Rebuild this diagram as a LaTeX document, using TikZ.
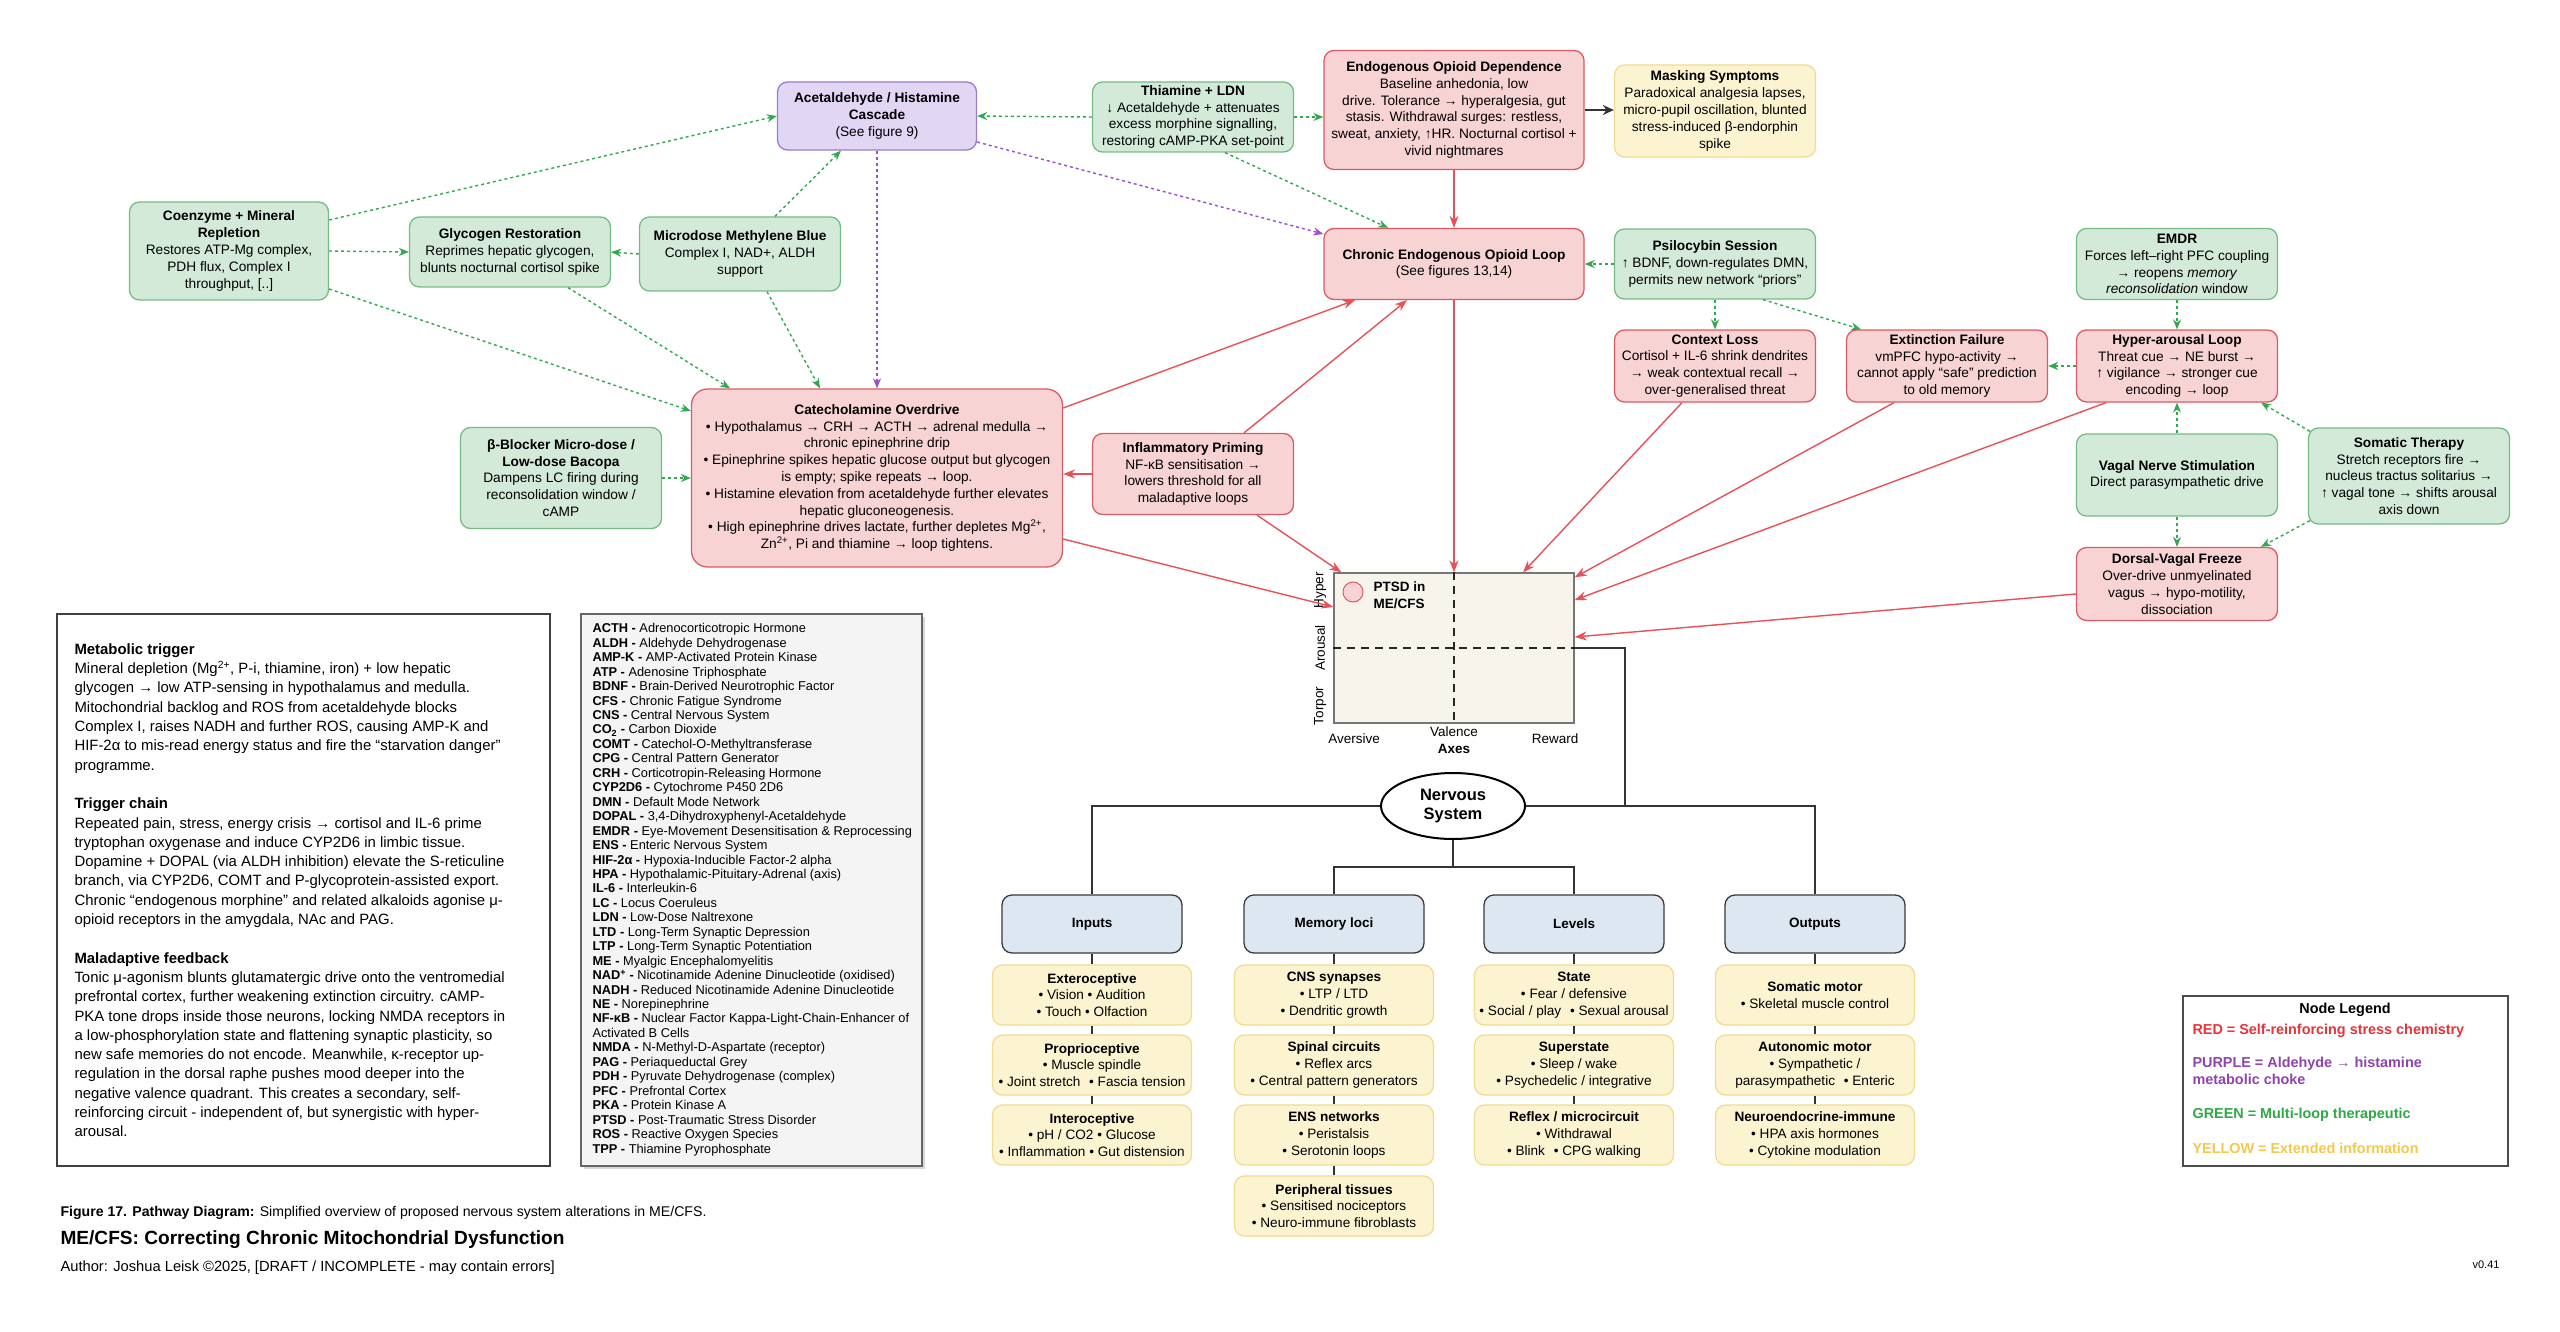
\documentclass[tikz,border=0pt]{standalone}
\usepackage{fontspec}
\setmainfont{Liberation Sans}
\usetikzlibrary{arrows.meta,shapes.geometric,calc,shadows}
\definecolor{redfill}{HTML}{F8D3D4}
\definecolor{redline}{HTML}{DD5A62}
\definecolor{grnfill}{HTML}{D4EAD9}
\definecolor{grnline}{HTML}{74BC83}
\definecolor{purfill}{HTML}{E2D6F5}
\definecolor{purline}{HTML}{9C7CC9}
\definecolor{yelfill}{HTML}{FCF3D0}
\definecolor{yelline}{HTML}{F1DC92}
\definecolor{blufill}{HTML}{DDE7F1}
\definecolor{bluline}{HTML}{3A3A3A}
\definecolor{chartfill}{HTML}{F7F4EC}
\definecolor{chartline}{HTML}{777777}
\definecolor{abbfill}{HTML}{F4F4F4}
\definecolor{arrred}{HTML}{E8505A}
\definecolor{arrgrn}{HTML}{33A853}
\definecolor{arrpur}{HTML}{9A4FD0}
\definecolor{legred}{HTML}{E8333A}
\definecolor{legpur}{HTML}{8E44AD}
\definecolor{leggrn}{HTML}{2EAA44}
\definecolor{legyel}{HTML}{F2C94C}
\lineskiplimit=-20pt
\newcommand\bxf{\lineskiplimit=-20pt\fontsize{13.7}{16.8}\selectfont}
\newcommand\trf{\lineskiplimit=-20pt\fontsize{13.6}{16.8}\selectfont}
\newcommand\hdrf{\bfseries\fontsize{13.5}{16}\selectfont}
\newcommand\ltf{\lineskiplimit=-20pt\fontsize{14.9}{19.3}\selectfont}
\newcommand\abf{\lineskiplimit=-20pt\fontsize{12.8}{14.45}\selectfont}
\newcommand\lgf{\bfseries\fontsize{14.4}{17}\selectfont}
\tikzset{
 bx/.style={rounded corners=10pt, align=center, font=\bxf, line width=1.3pt, inner sep=2pt},
 redbox/.style={bx, fill=redfill, draw=redline},
 grnbox/.style={bx, fill=grnfill, draw=grnline},
 purbox/.style={bx, fill=purfill, draw=purline},
 yelbox/.style={bx, fill=yelfill, draw=yelline},
 hdrbox/.style={rounded corners=10pt, fill=blufill, draw=bluline, line width=1.3pt, font=\hdrf, minimum width=180pt, minimum height=58pt},
 treebox/.style={rounded corners=10pt, fill=yelfill, draw=yelline, line width=1.3pt, align=center, font=\trf, minimum width=199pt, minimum height=60pt, inner sep=1pt},
 redarr/.style={draw=arrred, line width=1.4pt, -{Stealth[length=12pt,width=9pt]}},
 grnarr/.style={draw=arrgrn, line width=1.4pt, dash pattern=on 3pt off 3pt, -{Stealth[length=10pt,width=8pt]}},
 purarr/.style={draw=arrpur, line width=1.4pt, dash pattern=on 3pt off 3pt, -{Stealth[length=10pt,width=8pt]}},
 blkarr/.style={draw=black!80, line width=2.2pt, -{Stealth[length=11pt,width=10pt]}},
 treeline/.style={draw=black!80, line width=1.1pt},
}
\begin{document}
\begin{tikzpicture}[x=1pt,y=-1pt]
\useasboundingbox[fill=white] (0,0) rectangle (2560,1332);

% ---------------- top nodes
\node[purbox, minimum width=199pt, minimum height=68pt] (acet) at (877,116) {\textbf{Acetaldehyde / Histamine}\\\textbf{Cascade}\\(See figure 9)};
\node[grnbox, minimum width=201pt, minimum height=70pt] (thia) at (1193,117) {\textbf{Thiamine + LDN}\\↓ Acetaldehyde + attenuates\\excess morphine signalling,\\restoring cAMP-PKA set-point};
\node[redbox, minimum width=260pt, minimum height=119pt] (endo) at (1454,110) {\textbf{Endogenous Opioid Dependence}\\Baseline anhedonia, low\\drive. Tolerance → hyperalgesia, gut\\stasis. Withdrawal surges: restless,\\sweat, anxiety, ↑HR. Nocturnal cortisol +\\vivid nightmares};
\node[yelbox, minimum width=201pt, minimum height=92pt] (mask) at (1715,111) {\textbf{Masking Symptoms}\\Paradoxical analgesia lapses,\\micro-pupil oscillation, blunted\\stress-induced β-endorphin\\spike};
\node[grnbox, minimum width=199pt, minimum height=98pt] (coen) at (229,251) {\textbf{Coenzyme + Mineral}\\\textbf{Repletion}\\Restores ATP-Mg complex,\\PDH flux, Complex I\\throughput, [..]};
\node[grnbox, minimum width=201pt, minimum height=70pt] (glyc) at (510,252) {\textbf{Glycogen Restoration}\\Reprimes hepatic glycogen,\\blunts nocturnal cortisol spike};
\node[grnbox, minimum width=201pt, minimum height=74pt] (mblue) at (740,254) {\textbf{Microdose Methylene Blue}\\Complex I, NAD+, ALDH\\support};
\node[redbox, minimum width=260pt, minimum height=71pt] (chron) at (1454,264) {\textbf{Chronic Endogenous Opioid Loop}\\(See figures 13,14)};
\node[grnbox, minimum width=201pt, minimum height=70pt] (psil) at (1715,264) {\textbf{Psilocybin Session}\\↑ BDNF, down-regulates DMN,\\permits new network “priors”};
\node[grnbox, minimum width=201pt, minimum height=71pt] (emdr) at (2177,264) {\textbf{EMDR}\\Forces left–right PFC coupling\\→ reopens \textit{memory}\\\textit{reconsolidation} window};
\node[redbox, minimum width=201pt, minimum height=72pt] (ctx) at (1715,366) {\textbf{Context Loss}\\Cortisol + IL-6 shrink dendrites\\→ weak contextual recall →\\over-generalised threat};
\node[redbox, minimum width=201pt, minimum height=72pt] (ext) at (1947,366) {\textbf{Extinction Failure}\\vmPFC hypo-activity →\\cannot apply “safe” prediction\\to old memory};
\node[redbox, minimum width=201pt, minimum height=72pt] (hyper) at (2177,366) {\textbf{Hyper-arousal Loop}\\Threat cue → NE burst →\\↑ vigilance → stronger cue\\encoding → loop};
\node[redbox, rounded corners=16pt, minimum width=371pt, minimum height=178pt] (cate) at (877,478) {\textbf{Catecholamine Overdrive}\\• Hypothalamus → CRH → ACTH → adrenal medulla →\\chronic epinephrine drip\\• Epinephrine spikes hepatic glucose output but glycogen\\is empty; spike repeats → loop.\\• Histamine elevation from acetaldehyde further elevates\\hepatic gluconeogenesis.\\• High epinephrine drives lactate, further depletes Mg\textsuperscript{2+},\\Zn\textsuperscript{2+}, Pi and thiamine → loop tightens.};
\node[grnbox, minimum width=201pt, minimum height=101pt] (beta) at (561,478) {\textbf{β-Blocker Micro-dose /}\\\textbf{Low-dose Bacopa}\\Dampens LC firing during\\reconsolidation window /\\cAMP};
\node[redbox, minimum width=201pt, minimum height=81pt] (infl) at (1193,474) {\textbf{Inflammatory Priming}\\NF-κB sensitisation →\\lowers threshold for all\\maladaptive loops};
\node[grnbox, minimum width=201pt, minimum height=82pt] (vagal) at (2177,475) {\textbf{Vagal Nerve Stimulation}\\Direct parasympathetic drive};
\node[grnbox, minimum width=201pt, minimum height=96pt] (soma) at (2409,476) {\textbf{Somatic Therapy}\\Stretch receptors fire →\\nucleus tractus solitarius →\\↑ vagal tone → shifts arousal\\axis down};
\node[redbox, minimum width=201pt, minimum height=73pt] (dorsal) at (2177,584) {\textbf{Dorsal-Vagal Freeze}\\Over-drive unmyelinated\\vagus → hypo-motility,\\dissociation};

% ---------------- chart
\node[draw=chartline, fill=chartfill, line width=1.3pt, minimum width=240pt, minimum height=150pt] (chart) at (1454,648) {};
\draw[black!85, line width=1.3pt, dash pattern=on 8pt off 6pt] (chart.west) -- (chart.east);
\draw[black!85, line width=1.3pt, dash pattern=on 8pt off 6pt] (chart.north) -- (chart.south);
\node[circle, fill=redfill, draw=redline, line width=1pt, minimum size=20pt] (ptsdc) at (1353,592) {};
\node[anchor=north west, align=left, font=\bfseries\fontsize{13.5}{17}\selectfont] (ptsdt) at (1370,578) {PTSD in\\ME/CFS};
\node[rotate=90, font=\fontsize{13.5}{15}\selectfont] (lhyp) at (1320,590) {Hyper};
\node[rotate=90, font=\fontsize{13.5}{15}\selectfont] (laro) at (1320,648) {Arousal};
\node[rotate=90, font=\fontsize{13.5}{15}\selectfont] (ltor) at (1320,706) {Torpor};
\node[font=\fontsize{13.5}{15}\selectfont] (lave) at (1354,739) {Aversive};
\node[font=\fontsize{13.5}{15}\selectfont] (lval) at (1454,732) {Valence};
\node[font=\fontsize{13.5}{15}\selectfont] (lrew) at (1555,739) {Reward};
\node[font=\bfseries\fontsize{13.5}{15}\selectfont] (laxe) at (1454,749) {Axes};

% ---------------- connectors (top)
\draw[grnarr] ($(coen.east)+(0,-31)$) -- (acet.west);
\draw[grnarr] (coen.east) -- (glyc.west);
\draw[grnarr] ($(coen.east)+(0,38)$) -- ($(cate.west)+(0,-67)$);
\draw[grnarr] (mblue.west) -- (glyc.east);
\draw[grnarr] ($(mblue.north)+(35,0)$) -- ($(acet.south)+(-36,0)$);
\draw[grnarr] ($(mblue.south)+(27,0)$) -- ($(cate.north)+(-57,0)$);
\draw[grnarr] ($(glyc.south)+(58,0)$) -- ($(cate.north)+(-147,0)$);
\draw[purarr] (acet.south) -- (cate.north);
\draw[purarr] ($(acet.east)+(0,26)$) -- ($(chron.west)+(0,-30)$);
\draw[grnarr] (thia.west) -- (acet.east);
\draw[grnarr] (thia.east) -- (endo.west |- thia.east);
\draw[grnarr] ($(thia.south)+(32,0)$) -- ($(chron.north)+(-66,0)$);
\draw[blkarr] (endo.east) -- (mask.west |- endo.east);
\draw[redarr] (endo.south) -- (chron.north);
\draw[grnarr] (psil.west) -- (chron.east);
\draw[grnarr] (psil.south) -- (ctx.north);
\draw[grnarr] ($(psil.south)+(48,0)$) -- ($(ext.north)+(-86,0)$);
\draw[grnarr] (emdr.south) -- (hyper.north);
\draw[grnarr] (hyper.west) -- (ext.east);
\draw[grnarr] (vagal.north) -- (hyper.south);
\draw[grnarr] (vagal.south) -- (dorsal.north);
\draw[grnarr] ($(soma.north west)+(2,4)$) -- ($(hyper.south)+(84,0)$);
\draw[grnarr] ($(soma.south west)+(2,-4)$) -- ($(dorsal.north)+(84,0)$);
\draw[grnarr] (beta.east) -- (cate.west);
\draw[redarr] ($(cate.east)+(0,-70)$) -- ($(chron.south)+(-99,0)$);
\draw[redarr] ($(infl.north)+(51,0)$) -- ($(chron.south)+(-47,0)$);
\draw[redarr] (infl.west) -- (cate.east |- infl.west);
\draw[redarr] ($(infl.south)+(64,0)$) -- ($(chart.north west)+(8,0)$);
\draw[redarr] ($(cate.east)+(0,61)$) -- ($(chart.west)+(0,-41)$);
\draw[redarr] (chron.south) -- (chart.north);
\draw[redarr] ($(ctx.south)+(-33,0)$) -- ($(chart.north)+(69,0)$);
\draw[redarr] ($(ext.south)+(-53,0)$) -- ($(chart.north east)+(0,5)$);
\draw[redarr] ($(hyper.south)+(-71,0)$) -- ($(chart.east)+(0,-48)$);
\draw[redarr] ($(dorsal.west)+(0,10)$) -- ($(chart.east)+(0,-11)$);

% ---------------- nervous system tree
\node[ellipse, draw=black, line width=2pt, fill=white, minimum width=144pt, minimum height=66pt, align=center, font=\bfseries\fontsize{16.5}{19}\selectfont] (ns) at (1453,806) {Nervous\\System};
\node[hdrbox] (inp) at (1092,924) {Inputs};
\node[hdrbox] (mem) at (1334,924) {Memory loci};
\node[hdrbox] (lev) at (1574,924) {Levels};
\node[hdrbox] (outp) at (1815,924) {Outputs};
\coordinate (jn) at (1625,806);
\coordinate (nsb) at (1453,867);
\draw[treeline] (chart.east) -| (jn);
\draw[treeline] (ns.east) -| (outp.north);
\draw[treeline] (ns.west) -| (inp.north);
\draw[treeline] (ns.south) -- (nsb);
\draw[treeline] (mem.north) |- (nsb) -| (lev.north);

\node[treebox] (i1) at (1092,995) {\textbf{Exteroceptive}\\• Vision • Audition\\• Touch • Olfaction};
\node[treebox] (i2) at (1092,1065) {\textbf{Proprioceptive}\\• Muscle spindle\\• Joint stretch\hspace{5pt} • Fascia tension};
\node[treebox] (i3) at (1092,1135) {\textbf{Interoceptive}\\• pH / CO2 • Glucose\\• Inflammation • Gut distension};
\node[treebox] (m1) at (1334,995) {\textbf{CNS synapses}\\• LTP / LTD\\• Dendritic growth};
\node[treebox] (m2) at (1334,1065) {\textbf{Spinal circuits}\\• Reflex arcs\\• Central pattern generators};
\node[treebox] (m3) at (1334,1135) {\textbf{ENS networks}\\• Peristalsis\\• Serotonin loops};
\node[treebox] (m4) at (1334,1206) {\textbf{Peripheral tissues}\\• Sensitised nociceptors\\• Neuro-immune fibroblasts};
\node[treebox] (l1) at (1574,995) {\textbf{State}\\• Fear / defensive\\• Social / play\hspace{5pt} • Sexual arousal};
\node[treebox] (l2) at (1574,1065) {\textbf{Superstate}\\• Sleep / wake\\• Psychedelic / integrative};
\node[treebox] (l3) at (1574,1135) {\textbf{Reflex / microcircuit}\\• Withdrawal\\• Blink\hspace{5pt} • CPG walking};
\node[treebox] (o1) at (1815,995) {\textbf{Somatic motor}\\• Skeletal muscle control};
\node[treebox] (o2) at (1815,1065) {\textbf{Autonomic motor}\\• Sympathetic /\\parasympathetic\hspace{5pt} • Enteric};
\node[treebox] (o3) at (1815,1135) {\textbf{Neuroendocrine-immune}\\• HPA axis hormones\\• Cytokine modulation};
\draw[treeline] (inp.south) -- (i1.north) (i1.south) -- (i2.north) (i2.south) -- (i3.north);
\draw[treeline] (mem.south) -- (m1.north) (m1.south) -- (m2.north) (m2.south) -- (m3.north) (m3.south) -- (m4.north);
\draw[treeline] (lev.south) -- (l1.north) (l1.south) -- (l2.north) (l2.south) -- (l3.north);
\draw[treeline] (outp.south) -- (o1.north) (o1.south) -- (o2.north) (o2.south) -- (o3.north);

% ---------------- left text box
\node[draw=black!75, line width=1.3pt, minimum width=493pt, minimum height=552pt] (txtbox) at (303.5,890) {};
\node[anchor=north west, align=left, font=\ltf] (txt) at (71,640) {\textbf{Metabolic trigger}\\
Mineral depletion (Mg\textsuperscript{2+}, P-i, thiamine, iron) + low hepatic\\
glycogen → low ATP-sensing in hypothalamus and medulla.\\
Mitochondrial backlog and ROS from acetaldehyde blocks\\
Complex I, raises NADH and further ROS, causing AMP-K and\\
HIF-2α to mis-read energy status and fire the “starvation danger”\\
programme.\\[19.3pt]
\textbf{Trigger chain}\\
Repeated pain, stress, energy crisis → cortisol and IL-6 prime\\
tryptophan oxygenase and induce CYP2D6 in limbic tissue.\\
Dopamine + DOPAL (via ALDH inhibition) elevate the S-reticuline\\
branch, via CYP2D6, COMT and P-glycoprotein-assisted export.\\
Chronic “endogenous morphine” and related alkaloids agonise μ-\\
opioid receptors in the amygdala, NAc and PAG.\\[19.3pt]
\textbf{Maladaptive feedback}\\
Tonic μ-agonism blunts glutamatergic drive onto the ventromedial\\
prefrontal cortex, further weakening extinction circuitry. cAMP-\\
PKA tone drops inside those neurons, locking NMDA receptors in\\
a low-phosphorylation state and flattening synaptic plasticity, so\\
new safe memories do not encode. Meanwhile, κ-receptor up-\\
regulation in the dorsal raphe pushes mood deeper into the\\
negative valence quadrant. This creates a secondary, self-\\
reinforcing circuit - independent of, but synergistic with hyper-\\
arousal.};

% ---------------- abbreviations
\node[draw=black!60, fill=abbfill, line width=1.2pt, minimum width=341pt, minimum height=552pt, drop shadow={shadow xshift=3pt, shadow yshift=-3pt, opacity=0.3}] (abbbox) at (751.5,890) {};
\node[anchor=north west, align=left, font=\abf] (abb) at (589,620) {\textbf{ACTH -} Adrenocorticotropic Hormone\\
\textbf{ALDH -} Aldehyde Dehydrogenase\\
\textbf{AMP-K -} AMP-Activated Protein Kinase\\
\textbf{ATP -} Adenosine Triphosphate\\
\textbf{BDNF -} Brain-Derived Neurotrophic Factor\\
\textbf{CFS -} Chronic Fatigue Syndrome\\
\textbf{CNS -} Central Nervous System\\
\textbf{CO\textsubscript{2} -} Carbon Dioxide\\
\textbf{COMT -} Catechol-O-Methyltransferase\\
\textbf{CPG -} Central Pattern Generator\\
\textbf{CRH -} Corticotropin-Releasing Hormone\\
\textbf{CYP2D6 -} Cytochrome P450 2D6\\
\textbf{DMN -} Default Mode Network\\
\textbf{DOPAL -} 3,4-Dihydroxyphenyl-Acetaldehyde\\
\textbf{EMDR -} Eye-Movement Desensitisation \& Reprocessing\\
\textbf{ENS -} Enteric Nervous System\\
\textbf{HIF-2α -} Hypoxia-Inducible Factor-2 alpha\\
\textbf{HPA -} Hypothalamic-Pituitary-Adrenal (axis)\\
\textbf{IL-6 -} Interleukin-6\\
\textbf{LC -} Locus Coeruleus\\
\textbf{LDN -} Low-Dose Naltrexone\\
\textbf{LTD -} Long-Term Synaptic Depression\\
\textbf{LTP -} Long-Term Synaptic Potentiation\\
\textbf{ME -} Myalgic Encephalomyelitis\\
\textbf{NAD\textsuperscript{+} -} Nicotinamide Adenine Dinucleotide (oxidised)\\
\textbf{NADH -} Reduced Nicotinamide Adenine Dinucleotide\\
\textbf{NE -} Norepinephrine\\
\textbf{NF-κB -} Nuclear Factor Kappa-Light-Chain-Enhancer of\\
Activated B Cells\\
\textbf{NMDA -} N-Methyl-D-Aspartate (receptor)\\
\textbf{PAG -} Periaqueductal Grey\\
\textbf{PDH -} Pyruvate Dehydrogenase (complex)\\
\textbf{PFC -} Prefrontal Cortex\\
\textbf{PKA -} Protein Kinase A\\
\textbf{PTSD -} Post-Traumatic Stress Disorder\\
\textbf{ROS -} Reactive Oxygen Species\\
\textbf{TPP -} Thiamine Pyrophosphate};

% ---------------- legend
\node[draw=black!70, line width=1.3pt, minimum width=325pt, minimum height=170pt] (legbox) at (2345.5,1081) {};
\node[font=\lgf, text=black] (legt) at (2345,1010) {Node Legend};
\node[anchor=west, font=\lgf, text=legred] (lg1) at (2189,1031) {RED = Self-reinforcing stress chemistry};
\node[anchor=north west, align=left, font=\lgf, text=legpur] (lg2) at (2189,1054) {PURPLE = Aldehyde → histamine\\metabolic choke};
\node[anchor=west, font=\lgf, text=leggrn] (lg3) at (2189,1115) {GREEN = Multi-loop therapeutic};
\node[anchor=west, font=\lgf, text=legyel] (lg4) at (2189,1148) {YELLOW = Extended information};

% ---------------- captions
\node[anchor=base west, font=\fontsize{14.1}{16}\selectfont] (cap) at (57,1216) {\textbf{Figure 17.} \textbf{Pathway Diagram:} Simplified overview of proposed nervous system alterations in ME/CFS.};
\node[anchor=base west, font=\bfseries\fontsize{19.1}{22}\selectfont] (ttl) at (57,1244) {ME/CFS: Correcting Chronic Mitochondrial Dysfunction};
\node[anchor=base west, font=\fontsize{14.7}{16}\selectfont] (auth) at (57,1271) {Author: Joshua Leisk ©2025, [DRAFT / INCOMPLETE - may contain errors]};
\node[anchor=base east, font=\fontsize{11}{13}\selectfont] (ver) at (2503,1268) {v0.41};
\end{tikzpicture}
\end{document}
